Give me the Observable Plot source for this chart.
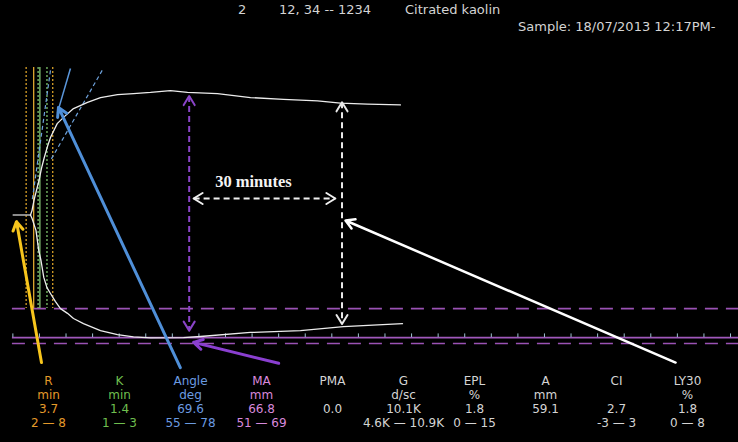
<!DOCTYPE html>
<html>
<head>
<meta charset="utf-8">
<script src="https://cdn.jsdelivr.net/npm/d3@7"></script>
<script src="https://cdn.jsdelivr.net/npm/@observablehq/plot@0.6"></script>
<style>
  html, body { margin: 0; padding: 0; background: #000; overflow: hidden; }
  #wrap { width: 738px; height: 442px; position: relative; overflow: hidden; background: #000; }
  #header { position: relative; height: 40px; font-family: "DejaVu Sans", sans-serif; font-size: 13px; line-height: 13px; color: #d4d4d4; }
  #header span { position: absolute; white-space: nowrap; }
  svg { display: block; }
</style>
</head>
<body>
<div id="wrap">
  <div id="header"></div>
  <div id="main"></div>
  <div id="table"></div>
</div>
<script>
// ---------------- DATA ----------------
const headerItems = ["2", "12, 34 -- 1234", "Citrated kaolin"];
const sampleLabel = "Sample: 18/07/2013 12:17PM-";

// TEG tracing: time (min) and half-amplitude (mm)
const baselineT = [-0.93, 2.98];
const upperT = [2.98, 3.32, 3.77, 4.33, 4.90, 5.46, 6.03, 6.82, 7.49, 9.01, 10.43, 12.69, 15.85, 18.78, 22.62, 26.23, 30.07, 34.58, 38.42, 45.19, 52.64, 60.09, 67.77, 72.96, 79.05, 86.50];
const upperV = [0, 1.2, 4.0, 6.7, 9.4, 12.7, 15.4, 18.7, 21.1, 24.9, 26.6, 29.0, 30.7, 32.0, 32.8, 33.1, 33.4, 33.9, 33.4, 33.1, 32.0, 31.5, 31.1, 30.5, 30.2, 30.0];
const lowerT = [2.98, 3.36, 4.22, 4.85, 5.35, 5.98, 6.70, 7.49, 8.62, 9.75, 11.33, 12.69, 14.94, 18.78, 22.62, 26.23, 30.07, 37.52, 41.35, 52.64, 63.93, 73.63, 86.95];
const lowerV = [0, -1.0, -4.2, -9.7, -12.4, -17.0, -19.8, -21.4, -23.6, -25.5, -26.8, -28.2, -29.6, -31.5, -32.6, -33.2, -33.5, -33.4, -33.1, -32.0, -31.5, -30.4, -29.6];

// Parameters (min)
const R = 3.7, K = 1.4;
const rRange = [2, 8];
const kRange = [R + 1, R + 3];

// Reference levels (mm) and time ticks (min)
const dashedLevels = [-25.5, -35.0];
const solidLevels = [-33.4];
const tickTimes = d3.range(-1, 162, 6);

// Angle lines (min, mm)
const angleSolid = [{t1: 12.0, v1: 39.9, t2: 9.07, v2: 27.9}];
const angleRange = [
  {t1: 19.16, v1: 39.4, t2: 7.49, v2: 14.85},
  {t1: 7.49, v1: 39.4, t2: 3.36, v2: 3.95}
];

// Measurement arrows
const maT = 38.8, maTop = 32.4, maBottom = -31.5;
const ly30T = 73.3, ly30Top = 30.7, ly30Bottom = -29.7;
const span30 = {t1: 39.8, t2: 71.8, v: 4.5};
const span30Label = {text: "30 minutes", t: 53.3, v: 9.1};

// Pointer arrows
const pointers = [
  {name: "R", t1: 5.46, v1: -40.2, t2: -0.18, v2: -1.8},
  {name: "Angle", t1: 36.8, v1: -41.6, t2: 9.3, v2: 29.3},
  {name: "MA", t1: 59.0, v1: -40.4, t2: 39.8, v2: -34.7},
  {name: "LY30", t1: 148.6, v1: -40.2, t2: 74.1, v2: -1.5}
];

// Result table
const params = ["R", "K", "Angle", "MA", "PMA", "G", "EPL", "A", "CI", "LY30"];
const units  = ["min", "min", "deg", "mm", "", "d/sc", "%", "mm", "", "%"];
const values = ["3.7", "1.4", "69.6", "66.8", "0.0", "10.1K", "1.8", "59.1", "2.7", "1.8"];
const ranges = ["2 \u2014 8", "1 \u2014 3", "55 \u2014 78", "51 \u2014 69", "", "4.6K \u2014 10.9K", "0 \u2014 15", "", "-3 \u2014 3", "0 \u2014 8"];

// ---------------- HEADER ----------------
const header = document.getElementById("header");
const headerLeft = [238, 279, 405];
headerItems.forEach((s, i) => {
  const el = document.createElement("span");
  el.textContent = s;
  el.style.left = headerLeft[i] + "px";
  el.style.top = "3px";
  header.appendChild(el);
});
{
  const el = document.createElement("span");
  el.textContent = sampleLabel;
  el.style.left = "518px";
  el.style.top = "20px";
  header.appendChild(el);
}

// ---------------- MAIN TRACING ----------------
const upper = upperT.map((t, i) => ({t, v: upperV[i]}));
const lower = lowerT.map((t, i) => ({t, v: lowerV[i]}));
const baseline = baselineT.map(t => ({t, v: 0}));
const vTop = 40.2, vBottom = -25.5;
const lineStart = -1.1, tEnd = 162.8;

const chevron = {
  draw(ctx) { ctx.moveTo(-5.5, 9); ctx.lineTo(0, 0); ctx.lineTo(5.5, 9); }
};

const maHeads = [{t: maT, v: maTop, r: 0}, {t: maT, v: maBottom, r: 180}];
const lyHeads = [{t: ly30T, v: ly30Top, r: 0}, {t: ly30T, v: ly30Bottom, r: 180}];
const spanHeads = [{t: span30.t1, v: span30.v, r: -90}, {t: span30.t2, v: span30.v, r: 90}];

const pointerColor = {R: "#f7c51c", Angle: "#4f8fd8", MA: "#8a3fd0", LY30: "#ffffff"};

const main = Plot.plot({
  width: 738,
  height: 330,
  margin: 0,
  x: {domain: [-3.79, tEnd], axis: null},
  y: {domain: [-42.37, 47.55], axis: null},
  style: {background: "#000"},
  marks: [
    // reference levels
    Plot.ruleY(dashedLevels, {x1: lineStart, x2: tEnd, stroke: "#9a52b4", strokeWidth: 1.6, strokeDasharray: "13,8"}),
    Plot.ruleY(solidLevels, {x1: lineStart, x2: tEnd, stroke: "#a058bc", strokeWidth: 1.6}),
    Plot.ruleX(tickTimes, {y1: -33.4, y2: -32.4, stroke: "#9ec2d2", strokeWidth: 1}),
    // R / K lines
    Plot.ruleX(rRange, {y1: vTop, y2: vBottom, stroke: "#d9a128", strokeWidth: 1.3, strokeDasharray: "2,2"}),
    Plot.ruleX(kRange, {y1: vTop, y2: vBottom, stroke: "#7cc26a", strokeWidth: 1.3, strokeDasharray: "2,2"}),
    Plot.ruleX([R], {y1: vTop, y2: vBottom, stroke: "#e0a830", strokeWidth: 1.3}),
    Plot.ruleX([R + K], {y1: vTop, y2: vBottom, stroke: "#86c878", strokeWidth: 1.3}),
    // angle lines
    Plot.link(angleRange, {x1: "t1", y1: "v1", x2: "t2", y2: "v2", stroke: "#6ea2dc", strokeWidth: 1.2, strokeDasharray: "4,3"}),
    Plot.link(angleSolid, {x1: "t1", y1: "v1", x2: "t2", y2: "v2", stroke: "#5b97dc", strokeWidth: 1.5}),
    // tracing
    Plot.line(baseline, {x: "t", y: "v", stroke: "#b8b8b8", strokeWidth: 1.5}),
    Plot.line(upper, {x: "t", y: "v", stroke: "#ececec", strokeWidth: 1.3}),
    Plot.line(lower, {x: "t", y: "v", stroke: "#ececec", strokeWidth: 1.3}),
    // MA double arrow
    Plot.link([{t: maT}], {x1: "t", x2: "t", y1: maTop, y2: maBottom, stroke: "#8a44c8", strokeWidth: 2, strokeDasharray: "6,4"}),
    Plot.vector(maHeads, {x: "t", y: "v", rotate: "r", length: 10, anchor: "start", shape: chevron, stroke: "#8a44c8", fill: "none", strokeWidth: 2}),
    // LY30 double arrow
    Plot.link([{t: ly30T}], {x1: "t", x2: "t", y1: ly30Top, y2: ly30Bottom, stroke: "#e8e8e8", strokeWidth: 2, strokeDasharray: "6,4"}),
    Plot.vector(lyHeads, {x: "t", y: "v", rotate: "r", length: 10, anchor: "start", shape: chevron, stroke: "#e8e8e8", fill: "none", strokeWidth: 2}),
    // 30 minutes span
    Plot.link([span30], {x1: "t1", x2: "t2", y1: "v", y2: "v", stroke: "#f0f0f0", strokeWidth: 2, strokeDasharray: "6,4"}),
    Plot.vector(spanHeads, {x: "t", y: "v", rotate: "r", length: 10, anchor: "start", shape: chevron, stroke: "#f0f0f0", fill: "none", strokeWidth: 2}),
    Plot.text([span30Label], {x: "t", y: "v", text: "text", fill: "#f4f4f4", fontWeight: "bold", fontFamily: "Liberation Serif, serif", fontSize: 16.5}),
    // pointer arrows
    ...pointers.map(p => Plot.arrow([p], {x1: "t1", y1: "v1", x2: "t2", y2: "v2", stroke: pointerColor[p.name], strokeWidth: p.name === "LY30" ? 2.5 : 3, headLength: p.name === "LY30" ? 6 : 5}))
  ]
});
document.getElementById("main").appendChild(main);

// ---------------- TABLE ----------------
const rowKeys = ["name", "unit", "value", "range"];
const cells = params.flatMap((p, i) => [
  {param: p, row: "name", text: params[i]},
  {param: p, row: "unit", text: units[i]},
  {param: p, row: "value", text: values[i]},
  {param: p, row: "range", text: ranges[i]}
]);

const table = Plot.plot({
  width: 738,
  height: 72,
  margin: 0,
  x: {type: "point", domain: params, range: [47, 688], padding: 0, axis: null},
  y: {type: "point", domain: rowKeys, range: [10, 53], padding: 0, axis: null},
  color: {type: "ordinal", domain: params, range: ["#e49a2a", "#6fbf4f", "#6b9be0", "#d889dc", "#d4d4d4", "#d4d4d4", "#d4d4d4", "#d4d4d4", "#d4d4d4", "#d4d4d4"]},
  style: {background: "#000", fontFamily: "DejaVu Sans, sans-serif"},
  marks: [
    Plot.text(cells, {x: "param", y: "row", text: "text", fill: "param", fontSize: 12})
  ]
});
document.getElementById("table").appendChild(table);
</script>
</body>
</html>
